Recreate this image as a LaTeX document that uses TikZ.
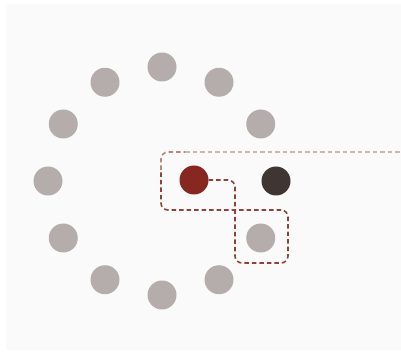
\documentclass[tikz,border=0pt]{standalone}
\definecolor{bgc}{HTML}{FAFAFA}
\definecolor{ringc}{HTML}{B5ADAB}
\definecolor{redc}{HTML}{872820}
\definecolor{darkc}{HTML}{3F3533}
\definecolor{dashdark}{HTML}{93403A}
\definecolor{dashmid}{HTML}{B88580}
\definecolor{dashlight}{HTML}{D3B3AF}
\begin{document}
\begin{tikzpicture}[x=1pt,y=-1pt,
  dot/.style={circle,inner sep=0pt,minimum size=29pt,draw=none},
  ringdot/.style={dot,fill=ringc},
  dashline/.style={line width=1.6pt,dash pattern=on 4.5pt off 3pt,rounded corners=7pt},
  darkpath/.style={dashline,draw=dashdark},
  midpath/.style={dashline,draw=dashmid},
  lightpath/.style={dashline,draw=dashlight}]
\useasboundingbox (0,0) rectangle (401,352);
\fill[white] (0,0) rectangle (401,352);
\fill[bgc] (6,4) rectangle (401,350);
\foreach \a/\n in {30/r1,60/r2,90/r3,120/r4,150/r5,180/r6,210/r7,240/r8,270/r9,300/r10} {
  \node[ringdot] (\n) at ({162+114*cos(\a)},{181-114*sin(\a)}) {};
}
\node[dot,fill=darkc] (dk) at (276,181) {};
\node[ringdot] (bx) at ({162+114*cos(-30)},{181+114*sin(30)}) {};
\node[dot,fill=redc] (rd) at (194,180) {};
\coordinate (e) at (401,152);
\draw[darkpath] (rd.east) -- (235,180) -- (235,263) -- (288,263) -- (288,210) -- (161,210) -- (161,170);
\draw[midpath] (161,170) -- (161,152) -- (185,152);
\draw[lightpath] (185,152) -- (e);
\end{tikzpicture}
\end{document}
